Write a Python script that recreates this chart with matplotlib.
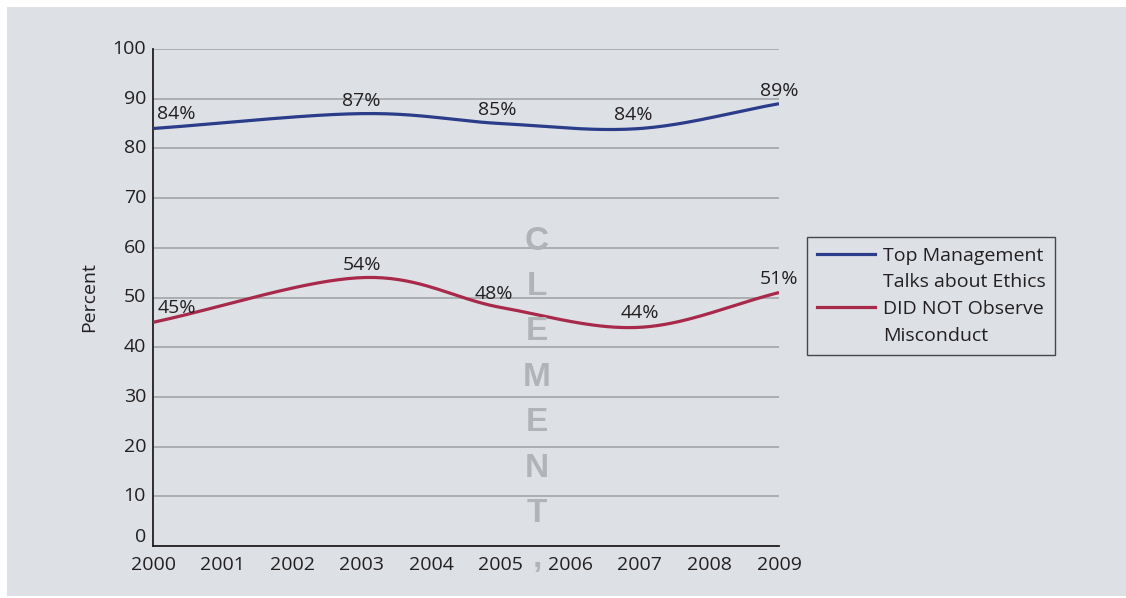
import numpy as np
import matplotlib
matplotlib.use('Agg')
import matplotlib.pyplot as plt
from matplotlib.patches import Rectangle
from matplotlib.lines import Line2D

plt.rcParams['font.family'] = ['Open Sans', 'DejaVu Sans']

years = [2000, 2003, 2005, 2007, 2009]
top_mgmt = [84, 87, 85, 84, 89]
not_observed = [45, 54, 48, 44, 51]
series_names = [['Top Management', 'Talks about Ethics'], ['DID NOT Observe', 'Misconduct']]
year_ticks = list(range(2000, 2010))
pct_ticks = list(range(0, 101, 10))


def smooth(xs, ys, n=40):
    # Catmull-Rom spline through the points, like a spreadsheet "smoothed line"
    pts = np.column_stack([xs, ys]).astype(float)
    pts = np.vstack([2 * pts[0] - pts[1], pts, 2 * pts[-1] - pts[-2]])
    out = []
    t = np.linspace(0, 1, n)[:, None]
    for i in range(1, len(pts) - 2):
        p0, p1, p2, p3 = pts[i - 1], pts[i], pts[i + 1], pts[i + 2]
        seg = 0.5 * (2 * p1 + (-p0 + p2) * t + (2 * p0 - 5 * p1 + 4 * p2 - p3) * t ** 2
                     + (-p0 + 3 * p1 - 3 * p2 + p3) * t ** 3)
        out.append(seg if i == 1 else seg[1:])
    out = np.vstack(out)
    return out[:, 0], out[:, 1]


bg = '#dde1e5'
ink = '#231f20'
fs = 14
fig = plt.figure(figsize=(11.26, 5.98), dpi=100)
fig.patch.set_facecolor('white')
fig.patches.append(Rectangle((7 / 1126, 0.004), 1, 1 - 7 / 598 - 0.004,
                             transform=fig.transFigure, facecolor=bg,
                             edgecolor='none', zorder=-10))

ax = fig.add_axes([153 / 1126, 1 - 546 / 598, (779 - 153) / 1126, (546 - 49) / 598])
ax.set_zorder(1)
ax.patch.set_alpha(0)

blue = '#2a3c8a'
red = '#a8294a'
bx, by = smooth(years, top_mgmt)
rx, ry = smooth(years, not_observed)
ax.plot(bx, by, color=blue, lw=2.3, zorder=3, solid_capstyle='butt')
ax.plot(rx, ry, color=red, lw=2.3, zorder=3, solid_capstyle='butt')

ax.set_xlim(2000, 2009)
ax.set_ylim(0, 100)
ax.set_xticks(year_ticks)
ax.set_yticks(pct_ticks)
ax.grid(axis='y', color='#a3a5a8', lw=1.2, zorder=1)
ax.tick_params(length=0, labelsize=fs, colors=ink)
ax.tick_params(axis='x', pad=7)
ax.tick_params(axis='y', pad=5)
for lab in ax.get_yticklabels():
    lab.set_verticalalignment('center')
ax.get_yticklabels()[0].set_verticalalignment('bottom')
for s in ['top', 'right']:
    ax.spines[s].set_visible(False)
for s in ['left', 'bottom']:
    ax.spines[s].set_color(ink)
    ax.spines[s].set_linewidth(1.3)
ax.set_ylabel('Percent', fontsize=fs, color=ink, labelpad=10)

# value labels
txt = dict(fontsize=fs, color=ink, zorder=4)
ax.text(years[0] + 0.06, top_mgmt[0] + 1.2, f'{top_mgmt[0]}%', ha='left', va='bottom', **txt)
ax.text(years[1], top_mgmt[1] + 0.7, f'{top_mgmt[1]}%', ha='center', va='bottom', **txt)
ax.text(years[2] - 0.05, top_mgmt[2] + 0.9, f'{top_mgmt[2]}%', ha='center', va='bottom', **txt)
ax.text(years[3] - 0.1, top_mgmt[3] + 1.0, f'{top_mgmt[3]}%', ha='center', va='bottom', **txt)
ax.text(years[4], top_mgmt[4] + 0.8, f'{top_mgmt[4]}%', ha='center', va='bottom', **txt)

ax.text(years[0] + 0.06, not_observed[0] + 1.0, f'{not_observed[0]}%', ha='left', va='bottom', **txt)
ax.text(years[1], not_observed[1] + 0.8, f'{not_observed[1]}%', ha='center', va='bottom', **txt)
ax.text(years[2] - 0.1, not_observed[2] + 0.8, f'{not_observed[2]}%', ha='center', va='bottom', **txt)
ax.text(years[3], not_observed[3] + 1.1, f'{not_observed[3]}%', ha='center', va='bottom', **txt)
ax.text(years[4], not_observed[4] + 1.0, f'{not_observed[4]}%', ha='center', va='bottom', **txt)

# legend: the swatch sits on the first line of each two-line name
handles, labels = [], []
for name, color in zip(series_names, [blue, red]):
    handles += [Line2D([], [], color=color, lw=2.3), Line2D([], [], color='none')]
    labels += name
leg = ax.legend(handles, labels, loc='upper left', bbox_to_anchor=(807 / 1126, 1 - 237 / 598),
                bbox_transform=fig.transFigure, fontsize=fs, frameon=True,
                fancybox=False, handlelength=3.0, handletextpad=0.4,
                labelspacing=0.45, borderpad=0.5, borderaxespad=0)
leg.get_frame().set_facecolor(bg)
leg.get_frame().set_edgecolor(ink)
leg.get_frame().set_linewidth(1.0)
for t in leg.get_texts():
    t.set_color(ink)

# watermark
fig.text(537 / 1126, 1 - 400 / 598, 'C\nL\nE\nM\nE\nN\nT\n,', ha='center', va='center',
         fontsize=24, fontweight='bold', family='Liberation Sans', color='#b1b4b7',
         linespacing=1.6, zorder=5)

fig.savefig('out.png', dpi=100, facecolor=fig.get_facecolor())
